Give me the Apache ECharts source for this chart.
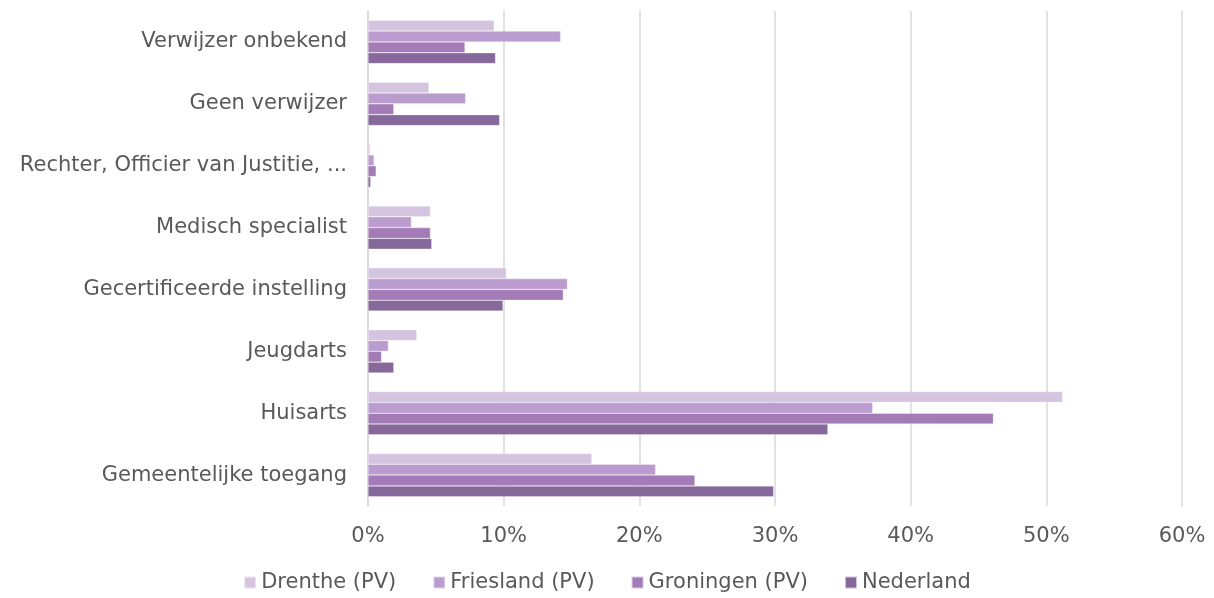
<!DOCTYPE html>
<html>
<head>
<meta charset="utf-8">
<script src="https://cdn.jsdelivr.net/npm/echarts@6/dist/echarts.min.js"></script>
<style>
  html, body { margin: 0; padding: 0; background: #fff; }
  #chart { width: 1214px; height: 598px; }
</style>
</head>
<body>
<div id="chart"></div>
<script>
// categorieen van boven naar onder
var categories = ['Verwijzer onbekend', 'Geen verwijzer', 'Rechter, Officier van Justitie, ...',
  'Medisch specialist', 'Gecertificeerde instelling', 'Jeugdarts', 'Huisarts', 'Gemeentelijke toegang'];
var seriesNames = ['Drenthe (PV)', 'Friesland (PV)', 'Groningen (PV)', 'Nederland'];
var drenthe   = [9.3, 4.5, 0.15, 4.6, 10.2, 3.6, 51.2, 16.5];
var friesland = [14.2, 7.2, 0.45, 3.2, 14.7, 1.5, 37.2, 21.2];
var groningen = [7.15, 1.9, 0.6, 4.6, 14.4, 1.0, 46.1, 24.1];
var nederland = [9.4, 9.7, 0.2, 4.7, 9.95, 1.9, 33.9, 29.9];
var colors = ['#d5c4e0', '#bb9ccf', '#a27bb7', '#86689b'];

var myChart = echarts.init(document.getElementById('chart'));
var data = [drenthe, friesland, groningen, nederland];
var series = data.map(function (d, i) {
  return {
    name: seriesNames[i],
    type: 'bar',
    data: d,
    barGap: '0%',
    barCategoryGap: '30%',
    itemStyle: { color: colors[i], borderColor: 'rgba(255,255,255,0.6)', borderWidth: 0.5 }
  };
});

var option = {
  animation: false,
  color: colors,
  textStyle: { fontFamily: 'DejaVu Sans' },
  grid: { left: 368, right: 32, top: 11, bottom: 92, containLabel: false },
  legend: {
    bottom: 0,
    left: 'center',
    itemWidth: 12,
    itemHeight: 12,
    itemGap: 36,
    icon: 'rect',
    textStyle: { color: '#595959', fontSize: 21, fontFamily: 'DejaVu Sans' },
    data: seriesNames
  },
  xAxis: {
    type: 'value',
    min: 0,
    max: 60,
    interval: 10,
    axisLine: { show: false },
    axisTick: { show: false },
    splitLine: { lineStyle: { color: '#d9d9d9', width: 1.5 } },
    axisLabel: { formatter: '{value}%', color: '#595959', fontSize: 21, margin: 20 }
  },
  yAxis: {
    type: 'category',
    inverse: true,
    data: categories,
    axisLine: { lineStyle: { color: '#d9d9d9', width: 1.5 } },
    axisTick: { show: false },
    axisLabel: { color: '#595959', fontSize: 21, margin: 21 }
  },
  series: series
};
myChart.setOption(option);
</script>
</body>
</html>
